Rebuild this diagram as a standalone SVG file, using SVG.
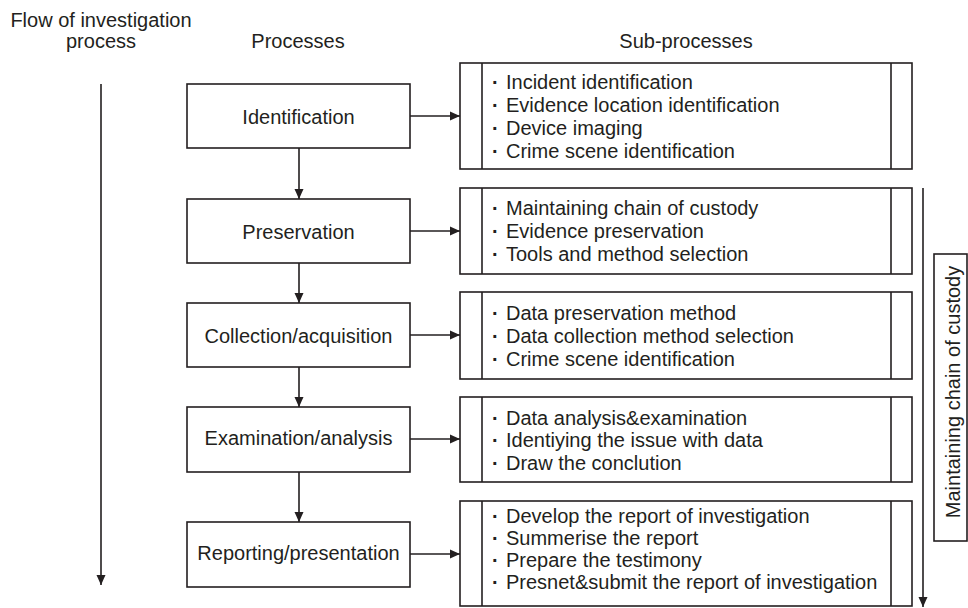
<svg xmlns="http://www.w3.org/2000/svg" width="968" height="608" viewBox="0 0 968 608">
<defs>
<marker id="ah" markerWidth="10" markerHeight="10" viewBox="0 0 10 10" refX="10" refY="5" orient="auto" markerUnits="userSpaceOnUse">
<path d="M0,0.5 L10,5 L0,9.5 Z" fill="#231f20"/>
</marker>
<style>
text{font-family:"Liberation Sans",Arial,sans-serif;font-size:20px;fill:#231f20}
.c{text-anchor:middle}
.b{font-weight:bold}
.box{fill:#fff;stroke:#231f20;stroke-width:1.6}
.ln{stroke:#231f20;stroke-width:1.6;fill:none}
.ar{stroke:#231f20;stroke-width:1.6;fill:none;marker-end:url(#ah)}
</style>
</defs>
<rect width="968" height="608" fill="#fff"/>
<g id="headers">
<text class="c" x="101" y="27">Flow of investigation</text>
<text class="c" x="101" y="48">process</text>
<text class="c" x="298" y="48">Processes</text>
<text class="c" x="686" y="48">Sub-processes</text>
</g>
<g id="connectors">
<line class="ar" x1="101" y1="84" x2="101" y2="585"/>
<line class="ar" x1="923" y1="188" x2="923" y2="607"/>
<line class="ar" x1="299" y1="148" x2="299" y2="199"/>
<line class="ar" x1="299" y1="263" x2="299" y2="303"/>
<line class="ar" x1="299" y1="367" x2="299" y2="407"/>
<line class="ar" x1="299" y1="472" x2="299" y2="522"/>
<line class="ar" x1="410" y1="116" x2="460" y2="116"/>
<line class="ar" x1="410" y1="231" x2="460" y2="231"/>
<line class="ar" x1="410" y1="335" x2="460" y2="335"/>
<line class="ar" x1="410" y1="439" x2="460" y2="439"/>
<line class="ar" x1="410" y1="554" x2="460" y2="554"/>
</g>
<g id="identification">
<rect class="box" x="187" y="84" width="223" height="64"/>
<text class="c" x="298.5" y="124">Identification</text>
</g>
<g id="preservation">
<rect class="box" x="187" y="199" width="223" height="64"/>
<text class="c" x="298.5" y="239">Preservation</text>
</g>
<g id="collection">
<rect class="box" x="187" y="303" width="223" height="64"/>
<text class="c" x="298.5" y="343">Collection/acquisition</text>
</g>
<g id="examination">
<rect class="box" x="187" y="407" width="223" height="65"/>
<text class="c" x="298.5" y="445">Examination/analysis</text>
</g>
<g id="reporting">
<rect class="box" x="187" y="522" width="223" height="65"/>
<text class="c" x="298.5" y="560">Reporting/presentation</text>
</g>
<g id="sub-identification">
<rect class="box" x="460" y="63" width="452" height="106"/>
<line class="ln" x1="482" y1="63" x2="482" y2="169"/>
<line class="ln" x1="891" y1="63" x2="891" y2="169"/>
<text x="492" y="89"><tspan class="b">·</tspan><tspan x="506">Incident identification</tspan></text>
<text x="492" y="112"><tspan class="b">·</tspan><tspan x="506">Evidence location identification</tspan></text>
<text x="492" y="135"><tspan class="b">·</tspan><tspan x="506">Device imaging</tspan></text>
<text x="492" y="158"><tspan class="b">·</tspan><tspan x="506">Crime scene identification</tspan></text>
</g>
<g id="sub-preservation">
<rect class="box" x="460" y="188" width="452" height="86"/>
<line class="ln" x1="482" y1="188" x2="482" y2="274"/>
<line class="ln" x1="891" y1="188" x2="891" y2="274"/>
<text x="492" y="215"><tspan class="b">·</tspan><tspan x="506">Maintaining chain of custody</tspan></text>
<text x="492" y="238"><tspan class="b">·</tspan><tspan x="506">Evidence preservation</tspan></text>
<text x="492" y="261"><tspan class="b">·</tspan><tspan x="506">Tools and method selection</tspan></text>
</g>
<g id="sub-collection">
<rect class="box" x="460" y="292" width="452" height="87"/>
<line class="ln" x1="482" y1="292" x2="482" y2="379"/>
<line class="ln" x1="891" y1="292" x2="891" y2="379"/>
<text x="492" y="320"><tspan class="b">·</tspan><tspan x="506">Data preservation method</tspan></text>
<text x="492" y="343"><tspan class="b">·</tspan><tspan x="506">Data collection method selection</tspan></text>
<text x="492" y="366"><tspan class="b">·</tspan><tspan x="506">Crime scene identification</tspan></text>
</g>
<g id="sub-examination">
<rect class="box" x="460" y="397" width="452" height="85"/>
<line class="ln" x1="482" y1="397" x2="482" y2="482"/>
<line class="ln" x1="891" y1="397" x2="891" y2="482"/>
<text x="492" y="425"><tspan class="b">·</tspan><tspan x="506">Data analysis&amp;examination</tspan></text>
<text x="492" y="447"><tspan class="b">·</tspan><tspan x="506">Identiying the issue with data</tspan></text>
<text x="492" y="470"><tspan class="b">·</tspan><tspan x="506">Draw the conclution</tspan></text>
</g>
<g id="sub-reporting">
<rect class="box" x="460" y="501" width="452" height="105"/>
<line class="ln" x1="482" y1="501" x2="482" y2="606"/>
<line class="ln" x1="891" y1="501" x2="891" y2="606"/>
<text x="492" y="523"><tspan class="b">·</tspan><tspan x="506">Develop the report of investigation</tspan></text>
<text x="492" y="545"><tspan class="b">·</tspan><tspan x="506">Summerise the report</tspan></text>
<text x="492" y="567"><tspan class="b">·</tspan><tspan x="506">Prepare the testimony</tspan></text>
<text x="492" y="589"><tspan class="b">·</tspan><tspan x="506">Presnet&amp;submit the report of investigation</tspan></text>
</g>
<g id="custody-label">
<rect class="box" x="934" y="254" width="33" height="287"/>
<text class="c" transform="translate(960,392) rotate(-90)">Maintaining chain of custody</text>
</g>
</svg>
